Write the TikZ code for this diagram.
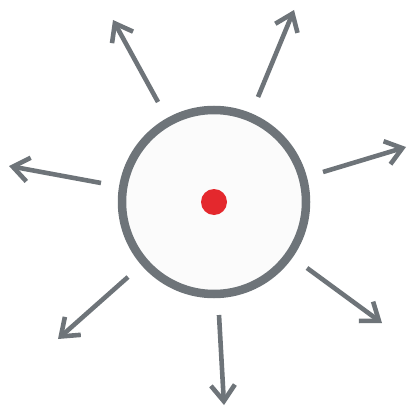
\documentclass[tikz,border=0pt]{standalone}
\usetikzlibrary{arrows.meta}
\definecolor{steel}{HTML}{6E7479}
\definecolor{pale}{HTML}{FBFBFB}
\definecolor{dotred}{HTML}{E4282D}

\begin{document}
\begin{tikzpicture}[x=1pt,y=-1pt,>={Straight Barb[length=16pt,width=24pt]}]
  \useasboundingbox (0,0) rectangle (409,409);

  % Ring with the point source
  \node[circle,draw=steel,fill=pale,line width=8.5pt,minimum size=184pt,
    inner sep=0pt] (ring) at (214,202) {};
  \node[circle,fill=dotred,minimum size=26pt,inner sep=0pt] (source)
    at (ring.center) {};

  % Outgoing rays
  \foreach \name/\xa/\ya/\xb/\yb in {
      nw/158/102/113/20,
      ne/258/97/294/10,
      e/323/172/406/147,
      se/307/268/382/323,
      s/219/315/224/405,
      sw/128/277/58/339,
      w/101/183/9/166} {
    \coordinate (\name-tail) at (\xa,\ya);
    \coordinate (\name-tip) at (\xb,\yb);
    \draw[->,steel,line width=4.6pt] (\name-tail) -- (\name-tip);
  }
\end{tikzpicture}
\end{document}
